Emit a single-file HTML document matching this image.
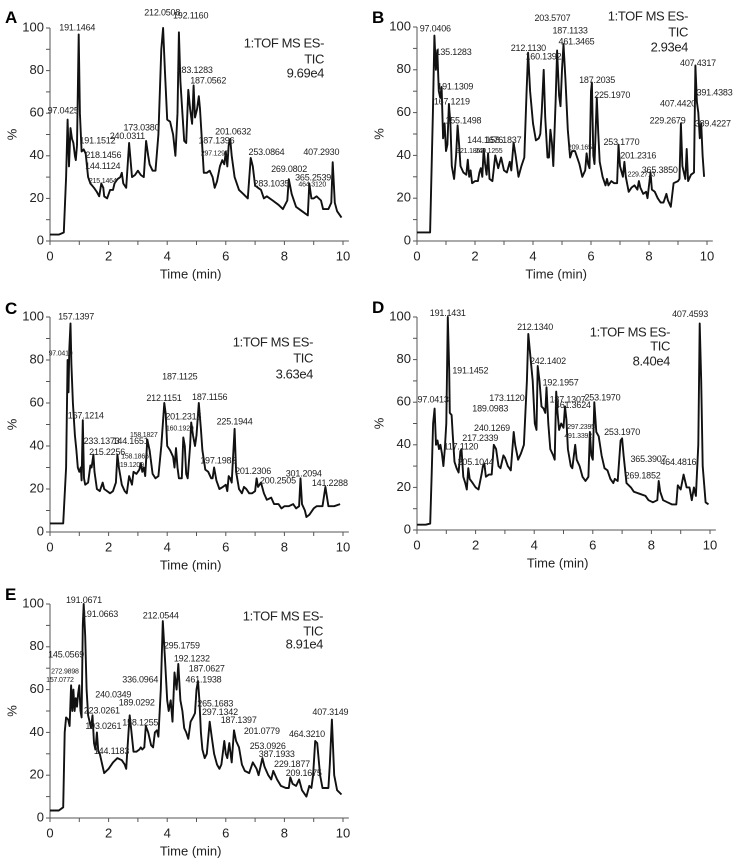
<!DOCTYPE html>
<html><head><meta charset="utf-8"><style>
html,body{margin:0;padding:0;background:#fff}
svg{display:block}
text{font-family:"Liberation Sans",sans-serif;fill:#222}
.tick{font-size:13px}
.lg{font-size:13px;letter-spacing:-0.4px}
.pk{font-size:9px;letter-spacing:-0.2px}
.pks{font-size:7px;letter-spacing:-0.2px}
.let{font-family:"Liberation Sans",sans-serif;font-weight:bold;font-size:17px;fill:#000}
</style></head><body>
<svg id="fig" width="742" height="864" viewBox="0 0 742 864"></svg>
<script>
const xTicks=["0","2","4","6","8","10"];
const yTicks=["0","20","40","60","80","100"];
const legendA=["1:TOF MS ES-","TIC","9.69e4"];
const legendB=["1:TOF MS ES-","TIC","2.93e4"];
const legendC=["1:TOF MS ES-","TIC","3.63e4"];
const legendD=["1:TOF MS ES-","TIC","8.40e4"];
const legendE=["1:TOF MS ES-","TIC","8.91e4"];
const seriesA=[[0,3],[0.3,3],[0.47,4],[0.55,30],[0.6,57],[0.65,35],[0.7,53],[0.75,48],[0.8,46],[0.85,40],[0.88,38],[0.92,45],[0.98,97],[1.02,60],[1.08,42],[1.15,43],[1.22,41],[1.3,30],[1.38,27],[1.5,25],[1.6,23],[1.68,21],[1.75,27],[1.82,25],[1.85,21],[1.95,20],[2.05,24],[2.15,24],[2.2,27],[2.3,29],[2.4,30],[2.45,32],[2.5,27],[2.6,25],[2.7,46],[2.8,30],[2.9,31],[3.0,33],[3.1,31],[3.2,30],[3.28,47],[3.35,40],[3.4,36],[3.5,33],[3.6,33],[3.7,50],[3.8,90],[3.86,100],[3.92,80],[4.0,57],[4.1,56],[4.2,50],[4.28,40],[4.35,60],[4.4,98],[4.45,75],[4.52,60],[4.58,47],[4.65,46],[4.72,71],[4.78,62],[4.85,55],[4.9,73],[4.95,58],[5.02,62],[5.08,68],[5.12,62],[5.18,48],[5.25,32],[5.35,32],[5.45,33],[5.55,30],[5.62,25],[5.7,28],[5.8,35],[5.88,38],[5.95,36],[6.0,42],[6.05,35],[6.1,45],[6.15,48],[6.2,40],[6.3,30],[6.45,24],[6.6,22],[6.75,20],[6.85,39],[6.92,35],[7.0,26],[7.1,25],[7.2,24],[7.3,20],[7.4,21],[7.6,19],[7.8,17],[7.95,15],[8.1,19],[8.15,29],[8.25,22],[8.4,16],[8.6,14],[8.8,12],[8.85,27],[8.92,20],[9.0,20],[9.1,21],[9.25,19],[9.32,15],[9.5,15],[9.6,18],[9.65,37],[9.72,18],[9.8,14],[9.95,11]];
const seriesB=[[0,4],[0.45,4],[0.55,60],[0.6,96],[0.65,80],[0.7,89],[0.75,70],[0.8,67],[0.85,72],[0.9,48],[0.95,55],[1.0,42],[1.05,45],[1.1,64],[1.15,55],[1.2,35],[1.28,29],[1.35,40],[1.4,54],[1.45,45],[1.5,35],[1.6,32],[1.7,31],[1.75,38],[1.8,30],[1.85,33],[1.9,27],[2.0,28],[2.1,28],[2.15,32],[2.2,34],[2.25,30],[2.3,43],[2.35,36],[2.4,31],[2.45,41],[2.5,29],[2.6,28],[2.7,40],[2.8,34],[2.9,39],[3.0,33],[3.1,32],[3.2,37],[3.25,33],[3.33,46],[3.4,40],[3.5,30],[3.6,35],[3.7,39],[3.78,70],[3.83,88],[3.9,70],[4.0,55],[4.1,47],[4.2,48],[4.25,50],[4.3,60],[4.37,80],[4.42,58],[4.5,39],[4.55,39],[4.6,52],[4.65,46],[4.7,35],[4.78,65],[4.83,89],[4.9,68],[4.95,63],[5.0,80],[5.05,92],[5.12,75],[5.2,52],[5.28,39],[5.35,42],[5.45,42],[5.5,40],[5.6,36],[5.7,30],[5.8,33],[5.85,41],[5.9,36],[5.95,34],[6.0,70],[6.03,74],[6.08,40],[6.12,36],[6.2,67],[6.25,50],[6.3,37],[6.4,30],[6.5,26],[6.55,29],[6.6,26],[6.7,28],[6.8,27],[6.9,27],[6.95,45],[7.0,35],[7.1,30],[7.15,37],[7.2,30],[7.3,23],[7.4,25],[7.5,26],[7.6,24],[7.65,28],[7.7,25],[7.8,22],[7.9,23],[7.95,20],[8.05,32],[8.1,24],[8.2,23],[8.3,20],[8.4,18],[8.5,18],[8.6,22],[8.65,19],[8.75,16],[8.85,27],[9.0,28],[9.05,29],[9.1,55],[9.15,35],[9.25,29],[9.3,43],[9.35,28],[9.45,31],[9.55,32],[9.6,82],[9.65,65],[9.7,60],[9.75,48],[9.8,55],[9.85,40],[9.9,30]];
const seriesC=[[0,4],[0.45,4],[0.55,30],[0.6,80],[0.63,65],[0.66,85],[0.7,97],[0.73,78],[0.78,60],[0.85,45],[0.9,38],[0.95,30],[1.0,28],[1.05,30],[1.08,24],[1.12,52],[1.16,25],[1.2,22],[1.3,23],[1.38,31],[1.42,30],[1.48,36],[1.52,28],[1.6,20],[1.7,19],[1.8,23],[1.85,20],[1.95,19],[2.05,18],[2.15,19],[2.25,23],[2.3,36],[2.35,30],[2.45,22],[2.55,19],[2.62,18],[2.7,26],[2.75,24],[2.8,22],[2.85,28],[2.95,27],[3.05,29],[3.1,32],[3.15,28],[3.2,30],[3.25,26],[3.32,43],[3.4,38],[3.5,27],[3.6,25],[3.7,26],[3.8,40],[3.9,60],[3.95,55],[4.0,40],[4.1,38],[4.2,35],[4.25,30],[4.3,39],[4.35,30],[4.4,25],[4.5,25],[4.55,44],[4.6,40],[4.65,27],[4.7,25],[4.78,40],[4.82,51],[4.88,45],[4.95,40],[5.0,45],[5.08,60],[5.15,48],[5.2,38],[5.3,29],[5.4,28],[5.5,25],[5.55,25],[5.6,30],[5.68,24],[5.78,20],[5.9,21],[6.0,22],[6.05,19],[6.1,26],[6.15,25],[6.2,23],[6.3,48],[6.35,28],[6.45,20],[6.55,18],[6.62,21],[6.7,20],[6.8,18],[6.9,18],[7.0,19],[7.05,25],[7.1,21],[7.2,23],[7.3,18],[7.4,15],[7.55,16],[7.65,13],[7.8,13],[7.9,11],[8.0,12],[8.15,12],[8.3,13],[8.4,11],[8.5,12],[8.55,25],[8.6,13],[8.7,10],[8.75,7],[8.85,8],[9.0,11],[9.1,12],[9.3,12],[9.4,21],[9.5,12],[9.7,12],[9.9,13]];
const seriesD=[[0,2.5],[0.3,2.5],[0.45,3],[0.5,25],[0.55,50],[0.6,57],[0.65,40],[0.7,42],[0.75,38],[0.8,40],[0.85,36],[0.9,30],[0.95,38],[1.0,50],[1.05,100],[1.1,75],[1.12,55],[1.18,54],[1.22,45],[1.28,32],[1.35,29],[1.42,27],[1.48,37],[1.52,38],[1.58,25],[1.65,22],[1.7,19],[1.75,29],[1.8,24],[1.9,22],[2.0,20],[2.1,19],[2.2,26],[2.25,30],[2.3,31],[2.35,25],[2.45,26],[2.55,26],[2.62,40],[2.7,38],[2.78,30],[2.85,29],[2.95,35],[3.0,34],[3.1,30],[3.2,28],[3.3,46],[3.35,40],[3.45,33],[3.55,36],[3.65,40],[3.75,70],[3.8,92],[3.88,80],[3.95,70],[4.02,50],[4.08,47],[4.12,77],[4.18,70],[4.25,58],[4.32,57],[4.38,55],[4.42,67],[4.48,50],[4.55,38],[4.65,35],[4.7,33],[4.75,65],[4.8,55],[4.85,47],[4.92,50],[5.0,48],[5.05,58],[5.1,52],[5.15,38],[5.25,30],[5.3,29],[5.4,40],[5.45,33],[5.55,30],[5.65,25],[5.75,23],[5.85,25],[5.9,46],[5.95,35],[6.0,33],[6.05,60],[6.12,46],[6.2,44],[6.3,35],[6.4,29],[6.5,28],[6.6,24],[6.7,22],[6.75,24],[6.85,23],[6.95,42],[7.0,43],[7.05,35],[7.15,22],[7.3,20],[7.4,18],[7.6,17],[7.8,16],[7.9,14],[8.05,13],[8.2,14],[8.25,23],[8.3,18],[8.4,14],[8.55,13],[8.7,12],[8.85,12],[8.9,21],[9.0,19],[9.1,26],[9.2,20],[9.3,20],[9.38,14],[9.45,20],[9.52,16],[9.6,40],[9.65,97],[9.7,70],[9.75,30],[9.85,13],[9.95,12]];
const seriesE=[[0,3.5],[0.3,3.5],[0.45,5],[0.5,40],[0.55,47],[0.62,46],[0.67,43],[0.72,62],[0.76,50],[0.8,60],[0.84,50],[0.88,56],[0.92,52],[0.96,58],[1.0,62],[1.04,50],[1.08,47],[1.12,90],[1.15,100],[1.2,85],[1.25,60],[1.3,48],[1.35,45],[1.4,42],[1.45,48],[1.5,35],[1.55,32],[1.6,40],[1.65,31],[1.7,30],[1.78,25],[1.85,21],[2.0,23],[2.15,26],[2.3,28],[2.45,27],[2.55,25],[2.6,23],[2.68,40],[2.72,48],[2.78,40],[2.85,31],[2.95,31],[3.05,32],[3.1,33],[3.15,32],[3.22,33],[3.27,43],[3.35,40],[3.45,34],[3.52,33],[3.58,40],[3.65,41],[3.7,38],[3.78,60],[3.85,92],[3.92,75],[4.0,55],[4.05,50],[4.12,55],[4.18,45],[4.25,68],[4.32,60],[4.38,72],[4.45,55],[4.52,50],[4.58,42],[4.65,40],[4.72,37],[4.8,45],[4.88,47],[4.95,49],[5.0,60],[5.05,64],[5.1,55],[5.15,40],[5.2,32],[5.28,28],[5.35,30],[5.45,45],[5.52,38],[5.6,30],[5.7,25],[5.78,23],[5.85,25],[5.95,36],[6.0,30],[6.05,28],[6.12,35],[6.2,26],[6.28,41],[6.35,36],[6.45,33],[6.55,25],[6.65,22],[6.8,21],[6.92,26],[7.05,23],[7.12,20],[7.25,28],[7.32,24],[7.45,20],[7.55,18],[7.62,22],[7.75,18],[7.88,15],[8.05,14],[8.15,14],[8.2,19],[8.28,16],[8.4,15],[8.5,18],[8.6,13],[8.75,10],[8.85,15],[8.92,14],[8.98,20],[9.05,36],[9.12,35],[9.22,20],[9.3,14],[9.5,14],[9.55,25],[9.62,46],[9.7,20],[9.8,13],[9.95,11]];
const peaksA=[["97.0425",0.45,61,0],["191.1464",0.93,100,0],["212.0508",3.83,107,0],["192.1160",4.8,105.5,0],["283.1283",4.94,80,0],["187.0562",5.4,75,0],["191.1512",1.62,47,0],["240.0311",2.64,49,0],["173.0380",3.12,53,0],["218.1456",1.82,40,0],["144.1124",1.8,35,0],["215.1464",1.8,28,1],["187.1396",5.68,47,0],["201.0632",6.25,51,0],["297.1290",5.62,41,1],["253.0864",7.39,41.6,0],["283.1035",7.56,26.7,0],["269.0802",8.16,33.4,0],["365.2539",8.98,29.5,0],["464.3120",8.95,26.5,1],["407.2930",9.26,41.6,0]];
const peaksB=[["97.0406",0.63,99,0],["135.1283",1.26,88,0],["191.1309",1.32,72,0],["167.1219",1.2,65,0],["155.1498",1.6,56,0],["144.1676",2.35,47,0],["158.1837",2.98,47,0],["321.1862",1.83,42,1],["240.1255",2.47,42,1],["212.1130",3.84,90,0],["160.1392",4.36,86,0],["203.5707",4.67,104,0],["187.1133",5.28,98,0],["461.3465",5.5,93,0],["187.2035",6.21,75,0],["225.1970",6.73,68,0],["209.1658",5.68,43.6,1],["253.1770",7.05,46,0],["201.2316",7.63,39.6,0],["229.2713",7.74,31,1],["365.3850",8.37,33,0],["229.2679",8.64,56,0],["407.4420",9.0,64,0],["407.4317",9.69,83,0],["391.4383",10.26,69,0],["389.4227",10.2,54.5,0]];
const peaksC=[["157.1397",0.89,100,0],["97.0410",0.36,83,1],["167.1214",1.22,54,0],["233.1373",1.76,42,0],["144.1651",2.75,42,0],["158.1827",3.2,45,1],["215.2256",1.95,37,0],["158.1866",2.9,35,1],["219.1209",2.73,31,1],["212.1151",3.89,62,0],["187.1125",4.43,72,0],["187.1156",5.45,62.5,0],["201.2315",4.55,53.5,0],["160.1929",4.43,48,1],["225.1944",6.3,51,0],["197.1983",5.74,33,0],["201.2306",6.93,28,0],["200.2505",7.78,23.6,0],["301.2094",8.66,27,0],["141.2288",9.55,22.5,0]];
const peaksD=[["191.1431",1.05,101.5,0],["97.0413",0.55,61,0],["191.1452",1.82,74.5,0],["117.1120",1.5,38.8,0],["205.1044",2.0,31.6,0],["217.2339",2.16,43,0],["240.1269",2.56,47.6,0],["189.0983",2.5,56.7,0],["173.1120",3.07,61.7,0],["212.1340",4.03,95,0],["242.1402",4.47,79,0],["192.1957",4.9,69,0],["187.1307",5.14,61,0],["461.3624",5.32,58.5,0],["297.2395",5.6,48.4,1],["491.3392",5.5,44,1],["253.1970",6.33,62,0],["253.1970",7.0,45.6,0],["365.3907",7.9,33,0],["464.4816",8.92,31.6,0],["269.1852",7.7,25.3,0],["407.4593",9.32,101,0]];
const peaksE=[["191.0671",1.16,101.5,0],["191.0663",1.71,95,0],["145.0569",0.55,76,0],["272.9898",0.51,68.4,1],["157.0772",0.34,64.5,1],["212.0544",3.78,94.4,0],["295.1759",4.5,80.4,0],["192.1232",4.84,74.3,0],["187.0627",5.35,69.5,0],["461.1938",5.24,64.5,0],["336.0964",3.08,64.5,0],["240.0349",2.16,57.5,0],["189.0292",2.96,53.7,0],["158.1255",3.08,44.3,0],["223.0261",1.77,50,0],["193.0261",1.82,42.8,0],["144.1183",2.1,31,0],["265.1683",5.64,53.3,0],["297.1342",5.8,49.3,0],["187.1397",6.44,45.4,0],["201.0779",7.23,40.4,0],["253.0926",7.43,33.4,0],["387.1933",7.74,29.5,0],["229.1877",8.26,25,0],["209.1675",8.66,20.7,0],["464.3210",8.77,38.9,0],["407.3149",9.57,49.3,0]];

const NS="http://www.w3.org/2000/svg";
const svg=document.getElementById('fig');
function mk(tag,attrs,parent,txt){const e=document.createElementNS(NS,tag);for(const k in attrs)e.setAttribute(k,attrs[k]);if(txt!==undefined)e.textContent=txt;parent.appendChild(e);return e;}
const panels=[
 {id:"a",L:"A",x0:50,x10:343,y0:241,y100:28,lr:324,ly:[44,60,74],lx:5,lyy:23,s:seriesA,p:peaksA,lg:legendA},
 {id:"b",L:"B",x0:417,x10:707,y0:241,y100:27,lr:688,ly:[17,33,48],lx:372,lyy:23,s:seriesB,p:peaksB,lg:legendB},
 {id:"c",L:"C",x0:50,x10:343,y0:532,y100:317,lr:313,ly:[343,359,375],lx:5,lyy:314,s:seriesC,p:peaksC,lg:legendC},
 {id:"d",L:"D",x0:417,x10:710,y0:530,y100:317,lr:670,ly:[333,347,362],lx:372,lyy:313,s:seriesD,p:peaksD,lg:legendD},
 {id:"e",L:"E",x0:50,x10:343,y0:818,y100:604,lr:323,ly:[617,632,645],lx:5,lyy:600,s:seriesE,p:peaksE,lg:legendE}
];
panels.forEach(P=>{
 const X=t=>P.x0+(P.x10-P.x0)*t/10;
 const Y=v=>P.y0-(P.y0-P.y100)*v/100;
 const g=mk('g',{},svg);
 
 
 const let_=mk('text',{x:P.lx,y:P.lyy,class:'let'},g,P.L);
 
 
 const ax=mk('g',{stroke:'#555','stroke-width':1,fill:'none'},g);
 
 
 mk('line',{x1:X(0),y1:Y(0),x2:X(10.2),y2:Y(0)},ax);
 mk('line',{x1:X(0),y1:Y(0),x2:X(0),y2:Y(100)},ax);
 for(let i=0;i<=10;i++){mk('line',{x1:X(i),y1:Y(0),x2:X(i),y2:Y(0)+4},ax);}
 for(let i=0;i<=10;i++){mk('line',{x1:X(0),y1:Y(i*10),x2:X(0)-4,y2:Y(i*10)},ax);}
 xTicks.forEach(s=>{const t=mk('text',{x:X(+s),y:Y(0)+16,'text-anchor':'middle','dominant-baseline':'middle',class:'tick'},g,s);
  
  });
 yTicks.forEach(s=>{const t=mk('text',{x:X(0)-6,y:Y(+s),'text-anchor':'end','dominant-baseline':'middle',class:'tick'},g,s);
  
  });
 const xt=mk('text',{x:X(4.8),y:Y(0)+34,'text-anchor':'middle','dominant-baseline':'middle',class:'tick'},g,'Time (min)');
 
 
 const yy=(Y(0)+Y(100))/2;
 const yt=mk('text',{x:X(0)-37,y:yy,'text-anchor':'middle','dominant-baseline':'middle',class:'tick',transform:`rotate(-90 ${X(0)-37} ${yy})`},g,'%');
 
 
 P.lg.forEach((s,i)=>{const t=mk('text',{x:P.lr,y:P.ly[i],'text-anchor':'end','dominant-baseline':'middle',class:'lg'},g,s);
  
  });
 const d=P.s.map((p,i)=>(i?'L':'M')+X(p[0]).toFixed(1)+' '+Y(p[1]).toFixed(1)).join(' ');
 const path=mk('path',{d:d,fill:'none',stroke:'#111','stroke-width':1.9,'stroke-linejoin':'round'},g);
 
 
 P.p.forEach(q=>{const t=mk('text',{x:X(q[1]),y:Y(q[2]),'text-anchor':'middle','dominant-baseline':'middle',class:q[3]?'pks':'pk'},g,q[0]);
  
  });
});
</script>
</body></html>
